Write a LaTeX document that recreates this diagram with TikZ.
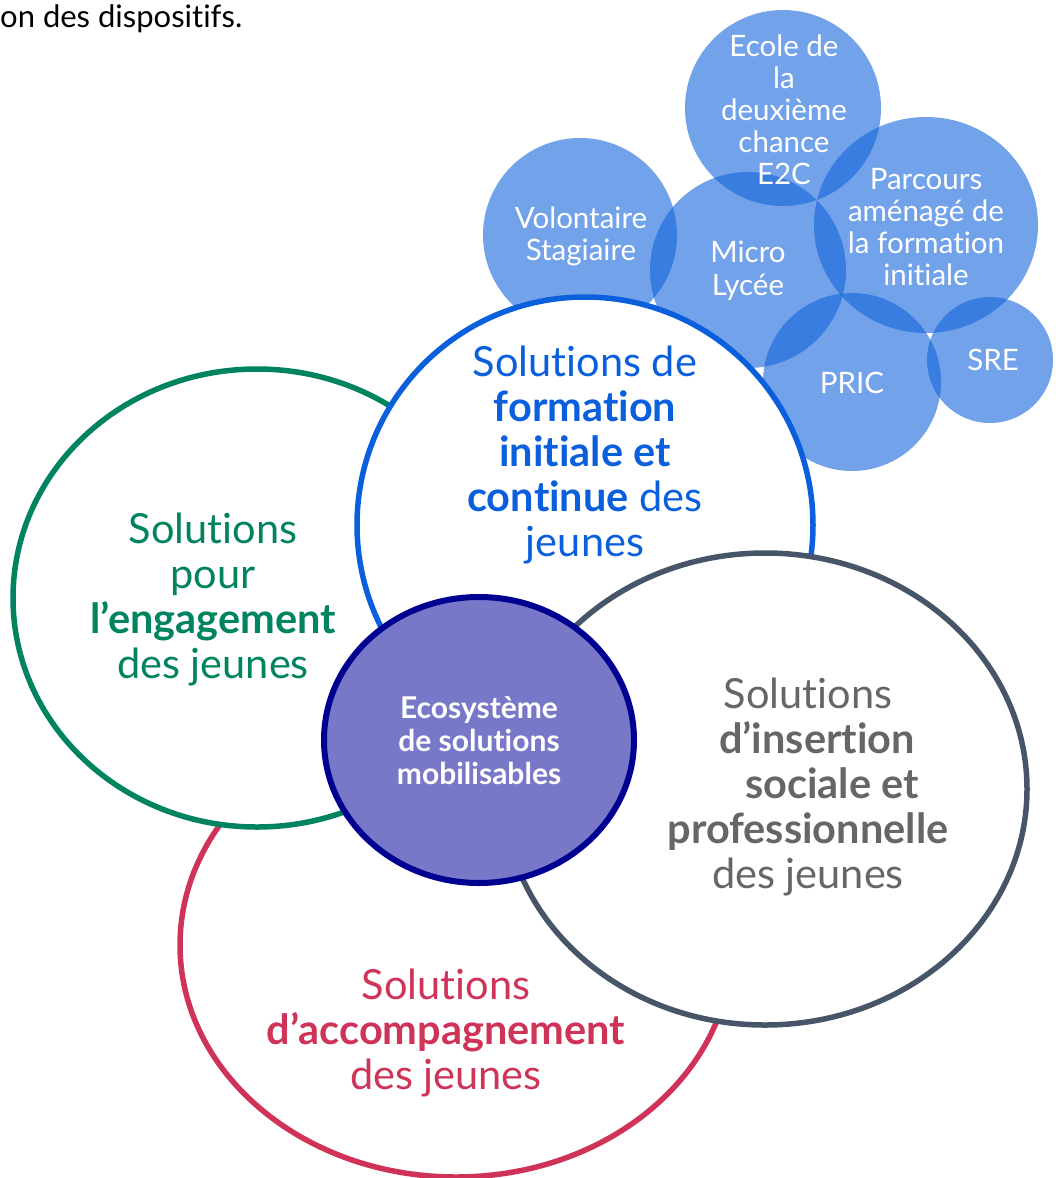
\documentclass[tikz,border=0pt]{standalone}
\usepackage{fontspec}
\setmainfont{Lato}[RawFeature={-liga,-dlig,-clig,-calt}]
\definecolor{cgreen}{HTML}{00845F}
\definecolor{cblue}{HTML}{0A5FDD}
\definecolor{cslate}{HTML}{465568}
\definecolor{cgraytext}{HTML}{666666}
\definecolor{cred}{HTML}{CF3458}
\definecolor{cpurple}{HTML}{7878C8}
\definecolor{cnavy}{HTML}{000091}
\definecolor{cbubble}{RGB}{20,100,218}
\tikzset{
  bubble/.style={fill=cbubble, fill opacity=0.6},
  bubbletext/.style={text=white, font=\fontsize{29.5}{32}\selectfont, align=center, inner sep=0pt},
  ring/.style={fill=white, line width=5.5pt},
  bigtext/.style={font=\fontsize{41.5}{45}\selectfont, align=center, inner sep=0pt},
}
\begin{document}
\begin{tikzpicture}[x=1pt,y=-1pt]
\useasboundingbox (0,0) rectangle (1055,1178);

% small bubbles
\path[bubble] (580,235) circle[radius=97pt];
\path[bubble] (783,108) circle[radius=98pt];
\path[bubble] (748,270) circle[radius=98pt];
\path[bubble] (926,225) ellipse[x radius=112pt, y radius=108pt];
\path[bubble] (852,382) circle[radius=89pt];
\path[bubble] (990,360) circle[radius=63pt];

\node[bubbletext] (vol) at (581,236) {Volontaire\\Stagiaire};
\node[bubbletext] (e2c) at (784,110) {Ecole de\\la\\deuxième\\chance\\E2C};
\node[bubbletext, font=\fontsize{29.5}{33}\selectfont] (micro) at (748,271) {Micro\\Lycée};
\node[bubbletext] (parc) at (926,227) {Parcours\\aménagé de\\la formation\\initiale};
\node[bubbletext] (pric) at (852,383) {PRIC};
\node[bubbletext] (sre) at (993,360) {SRE};

% big rings
\path[ring, draw=cred] (456,945) ellipse[x radius=276pt, y radius=232pt];
\path[ring, draw=cgreen] (257,598) ellipse[x radius=244pt, y radius=229pt];
\path[ring, draw=cblue] (585,525) ellipse[x radius=228pt, y radius=228pt];
\path[ring, draw=cslate] (765,789) ellipse[x radius=262pt, y radius=236pt];
\path[fill=cpurple, draw=cnavy, line width=6pt] (479,740) ellipse[x radius=155pt, y radius=143pt];

% labels
\node[bigtext, text=cblue] (form) at (585,455) {Solutions de\\\textbf{formation}\\\textbf{initiale et}\\\textbf{continue} des\\jeunes};
\node[bigtext, text=cgreen] (eng) at (213,599) {Solutions\\pour\\\textbf{l’engagement}\\des jeunes};
\node[bigtext, text=cgraytext] (ins) at (808,787) {Solutions\\\hspace*{18pt}\textbf{d’insertion}\\\hspace*{48pt}\textbf{sociale et}\\\textbf{professionnelle}\\des jeunes};
\node[bigtext, text=cred] (acc) at (446,1033) {Solutions\\\textbf{d’accompagnement}\\des jeunes};
\node[font=\fontsize{30}{33}\selectfont\bfseries, text=white, align=center, inner sep=0pt] (eco) at (479,741) {Ecosystème\\de solutions\\mobilisables};

\node[anchor=base west, inner sep=0pt, font=\fontsize{31}{34}\selectfont] (intro) at (0,27) {on des dispositifs.};
\end{tikzpicture}
\end{document}
